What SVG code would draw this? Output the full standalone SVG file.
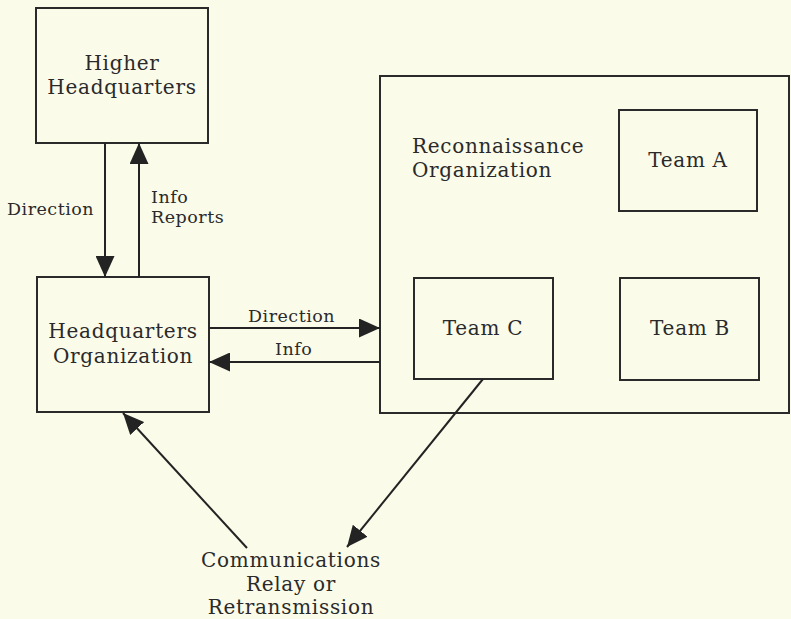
<svg xmlns="http://www.w3.org/2000/svg" width="791" height="619" viewBox="0 0 791 619">
  <defs>
    <marker id="arrow" markerUnits="userSpaceOnUse" markerWidth="21" markerHeight="19" refX="21" refY="9.5" orient="auto">
      <path d="M0,0 L21,9.5 L0,19 Z" fill="#232323"/>
    </marker>
    <style>
      .box { fill: none; stroke: #2a2a2a; stroke-width: 2; }
      .lbl { font-family: "DejaVu Serif", "Liberation Serif", serif; font-size: 20px; letter-spacing: 0.7px; fill: #2a2a2a; }
      .sm { font-family: "DejaVu Serif", "Liberation Serif", serif; font-size: 17.5px; letter-spacing: 0.5px; fill: #2a2a2a; }
      .mid { text-anchor: middle; }
      .conn { stroke: #232323; stroke-width: 2; fill: none; marker-end: url(#arrow); }
    </style>
  </defs>

  <rect width="791" height="619" fill="#fbfbea"/>

  <g id="higher-hq">
    <rect class="box" x="36" y="8" width="172" height="135"/>
    <text class="lbl mid" x="122" y="70">Higher</text>
    <text class="lbl mid" x="122" y="94">Headquarters</text>
  </g>

  <g id="hq-org">
    <rect class="box" x="37" y="277" width="172" height="135"/>
    <text class="lbl mid" x="123" y="338">Headquarters</text>
    <text class="lbl mid" x="123" y="363">Organization</text>
  </g>

  <g id="recon-org">
    <rect class="box" x="380" y="76" width="409" height="337"/>
    <text class="lbl" x="412" y="153">Reconnaissance</text>
    <text class="lbl" x="412" y="177">Organization</text>
  </g>

  <g id="team-a">
    <rect class="box" x="619" y="110" width="138" height="101"/>
    <text class="lbl mid" x="688" y="167">Team A</text>
  </g>

  <g id="team-b">
    <rect class="box" x="620" y="278" width="139" height="102"/>
    <text class="lbl mid" x="690" y="335">Team B</text>
  </g>

  <g id="team-c">
    <rect class="box" x="414" y="278" width="139" height="101"/>
    <text class="lbl mid" x="483" y="335">Team C</text>
  </g>

  <g id="relay">
    <text class="lbl mid" x="291" y="567">Communications</text>
    <text class="lbl mid" x="291" y="591">Relay or</text>
    <text class="lbl mid" x="291" y="614">Retransmission</text>
  </g>

  <g id="connectors">
    <line class="conn" x1="105" y1="143" x2="105" y2="277"/>
    <line class="conn" x1="139" y1="277" x2="139" y2="143"/>
    <line class="conn" x1="209" y1="328" x2="380" y2="328"/>
    <line class="conn" x1="380" y1="362" x2="209" y2="362"/>
    <line class="conn" x1="247" y1="548" x2="123" y2="413"/>
    <line class="conn" x1="483" y1="379" x2="347" y2="547"/>
    <text class="sm" x="7" y="215">Direction</text>
    <text class="sm" x="151" y="203">Info</text>
    <text class="sm" x="151" y="223">Reports</text>
    <text class="sm" x="248" y="322">Direction</text>
    <text class="sm" x="275" y="355">Info</text>
  </g>
</svg>
